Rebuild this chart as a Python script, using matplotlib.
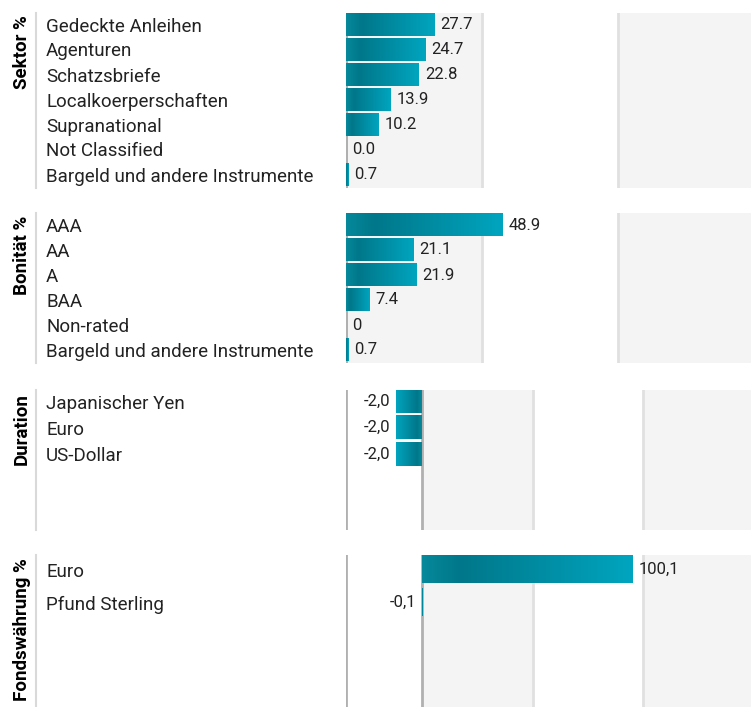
import numpy as np
import matplotlib
matplotlib.use("Agg")
import matplotlib.pyplot as plt
from matplotlib.colors import LinearSegmentedColormap
from matplotlib.lines import Line2D
from matplotlib.transforms import blended_transform_factory

plt.rcParams['font.family'] = ['Roboto', 'DejaVu Sans']

# --- Daten ---
sektor_kat = ["Gedeckte Anleihen", "Agenturen", "Schatzsbriefe", "Localkoerperschaften",
              "Supranational", "Not Classified", "Bargeld und andere Instrumente"]
sektor_werte = [27.7, 24.7, 22.8, 13.9, 10.2, 0.0, 0.7]
sektor_text = ["27.7", "24.7", "22.8", "13.9", "10.2", "0.0", "0.7"]

bonitaet_kat = ["AAA", "AA", "A", "BAA", "Non-rated", "Bargeld und andere Instrumente"]
bonitaet_werte = [48.9, 21.1, 21.9, 7.4, 0.0, 0.7]
bonitaet_text = ["48.9", "21.1", "21.9", "7.4", "0", "0.7"]

duration_kat = ["Japanischer Yen", "Euro", "US-Dollar"]
duration_werte = [-2.0, -2.0, -2.0]
duration_text = ["-2,0", "-2,0", "-2,0"]

waehrung_kat = ["Euro", "Pfund Sterling"]
waehrung_werte = [100.1, -0.1]
waehrung_text = ["100,1", "-0,1"]

W, H = 751, 707
fig = plt.figure(figsize=(W / 100, H / 100), dpi=100)

cmap = LinearSegmentedColormap.from_list(
    "teal", [(0.0, "#06899b"), (0.18, "#00778a"), (1.0, "#00a5bf")])
grad = np.linspace(0, 1, 256).reshape(1, -1)

GRAY_BAND = "#f4f4f4"
LINE_DARK = "#b0b0b0"
LINE_LIGHT = "#e0e0e0"
TXT = "#222222"


def panel(titel, kat, werte, texte, top, bottom, zero_px, ppu, pitch, bar_h, bar_top):
    # Achse in Pixelkoordinaten platzieren
    ax = fig.add_axes([346 / W, 1 - bottom / H, (W - 346) / W, (bottom - top) / H])
    x_min = -(zero_px - 346) / ppu
    x_max = (W - zero_px) / ppu
    band = (W + 3 - zero_px) / 3 / ppu

    # Hintergrundbaender
    ax.axvspan(0, band, color=GRAY_BAND, zorder=0, lw=0)
    ax.axvspan(2 * band, x_max, color=GRAY_BAND, zorder=0, lw=0)
    ax.axvline(band, color=LINE_LIGHT, lw=2, zorder=1)
    ax.axvline(2 * band, color=LINE_LIGHT, lw=2, zorder=1)
    ax.axvline(x_min, color=LINE_DARK, lw=2, zorder=1)
    ax.axvline(0, color=LINE_DARK, lw=2, zorder=1)

    off = 6 * 72 / 100
    for i, (v, t) in enumerate(zip(werte, texte)):
        if v > 0:
            ax.imshow(grad, extent=(0, v, i + bar_h / 2, i - bar_h / 2),
                      cmap=cmap, aspect='auto', zorder=3, interpolation='bilinear')
        elif v < 0:
            # negativer Balken: hell aussen, dunkel an der Nulllinie
            ax.imshow(grad[:, ::-1], extent=(v, 0, i + bar_h / 2, i - bar_h / 2),
                      cmap=cmap, aspect='auto', zorder=3, interpolation='bilinear')
        if v >= 0:
            ax.annotate(t, (v, i), xytext=(off, 0), textcoords='offset points',
                        ha='left', va='center', fontsize=12, color=TXT, zorder=4)
        else:
            ax.annotate(t, (v, i), xytext=(-off, 0), textcoords='offset points',
                        ha='right', va='center', fontsize=12, color=TXT, zorder=4)

    y_top = -bar_h / 2 - (bar_top - top) / pitch
    y_bot = y_top + (bottom - top) / pitch
    ax.set_xlim(x_min, x_max)
    ax.set_ylim(y_bot, y_top)
    ax.axis('off')

    # Kategorien links
    tr = blended_transform_factory(fig.transFigure, ax.transData)
    for i, k in enumerate(kat):
        fig.text(46 / W, i, k, transform=tr, ha='left', va='center_baseline',
                 fontsize=13.5, color=TXT)

    fig.add_artist(Line2D([36 / W, 36 / W], [1 - top / H, 1 - bottom / H],
                          transform=fig.transFigure, color="#d9d9d9", lw=1.5))
    fig.text(22 / W, 1 - (top + 3) / H, titel, rotation=90, ha='center', va='top',
             fontsize=13.5, fontweight='bold', color='black')


panel("Sektor %", sektor_kat, sektor_werte, sektor_text,
      12.5, 187.5, 346, 3.2, 25, 0.92, 13)
panel("Bonität %", bonitaet_kat, bonitaet_werte, bonitaet_text,
      212.5, 363, 346, 3.2, 25, 0.92, 213.5)
panel("Duration", duration_kat, duration_werte, duration_text,
      390, 530, 422, 13, 26.3, 0.875, 390)
panel("Fondswährung %", waehrung_kat, waehrung_werte, waehrung_text,
      555, 707, 422, 2.107, 33, 0.82, 556)

plt.savefig("out.png", dpi=100)
